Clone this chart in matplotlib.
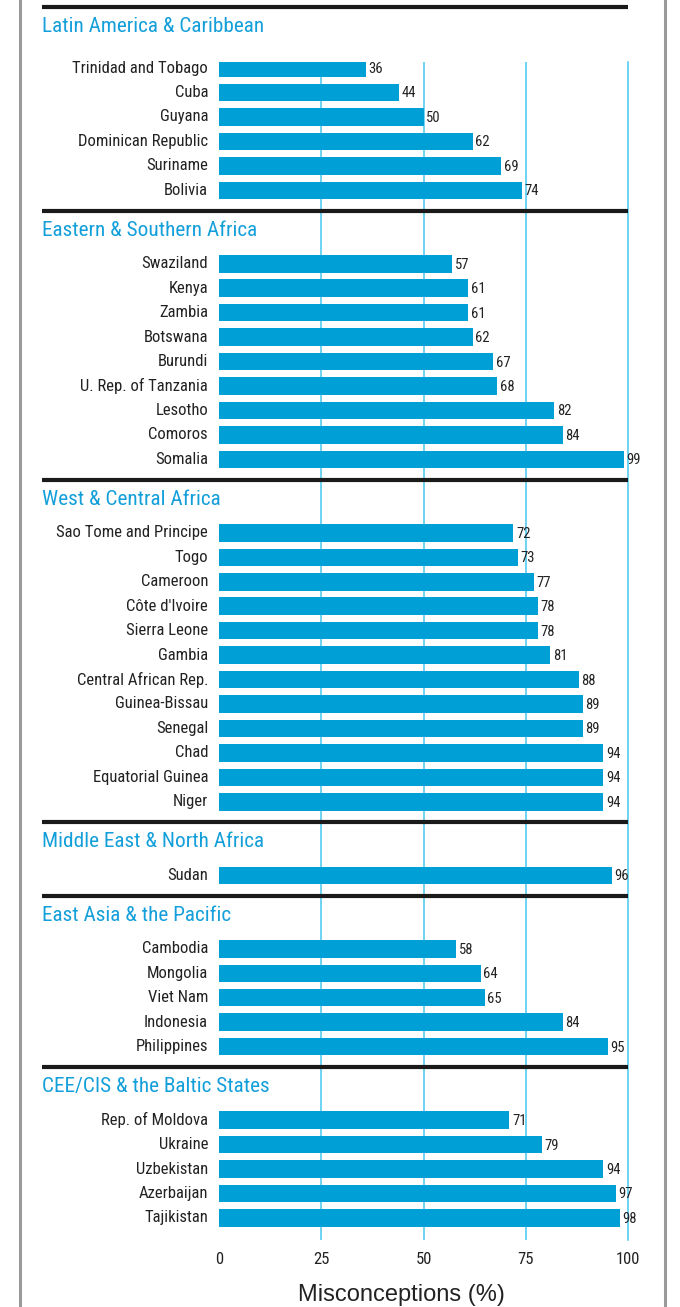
import matplotlib
matplotlib.use("Agg")
import matplotlib.pyplot as plt
from matplotlib.lines import Line2D
from matplotlib import font_manager

# values (% with misconceptions)
region_names = ["Latin America & Caribbean", "Eastern & Southern Africa", "West & Central Africa",
                "Middle East & North Africa", "East Asia & the Pacific", "CEE/CIS & the Baltic States"]

latam_countries = ["Trinidad and Tobago", "Cuba", "Guyana", "Dominican Republic", "Suriname", "Bolivia"]
latam_values = [36, 44, 50, 62, 69, 74]

esa_countries = ["Swaziland", "Kenya", "Zambia", "Botswana", "Burundi", "U. Rep. of Tanzania",
                 "Lesotho", "Comoros", "Somalia"]
esa_values = [57, 61, 61, 62, 67, 68, 82, 84, 99]

wca_countries = ["Sao Tome and Principe", "Togo", "Cameroon", "Côte d'Ivoire", "Sierra Leone", "Gambia",
                 "Central African Rep.", "Guinea-Bissau", "Senegal", "Chad", "Equatorial Guinea", "Niger"]
wca_values = [72, 73, 77, 78, 78, 81, 88, 89, 89, 94, 94, 94]

mena_countries = ["Sudan"]
mena_values = [96]

eap_countries = ["Cambodia", "Mongolia", "Viet Nam", "Indonesia", "Philippines"]
eap_values = [58, 64, 65, 84, 95]

cee_countries = ["Rep. of Moldova", "Ukraine", "Uzbekistan", "Azerbaijan", "Tajikistan"]
cee_values = [71, 79, 94, 97, 98]

x_ticks = [0, 25, 50, 75, 100]

groups = [
    (region_names[0], latam_countries, latam_values),
    (region_names[1], esa_countries, esa_values),
    (region_names[2], wca_countries, wca_values),
    (region_names[3], mena_countries, mena_values),
    (region_names[4], eap_countries, eap_values),
    (region_names[5], cee_countries, cee_values),
]

BAR = "#00a0d6"
TITLE = "#139fda"
GRID = "#45c7ef"
TXT = "#222222"


def narrow_font(size):
    # pick a condensed face if one is installed
    fonts = font_manager.fontManager.ttflist
    names = set(f.name for f in fonts)
    for fam in ["Liberation Sans Narrow", "Roboto Condensed", "Open Sans Condensed", "Noto Sans Condensed"]:
        if fam in names:
            return font_manager.FontProperties(family=fam, size=size)
    for f in fonts:
        if f.name == "DejaVu Sans" and f.stretch in ("condensed", "semi-condensed") and f.weight in ("normal", 400):
            return font_manager.FontProperties(fname=f.fname, size=size)
    for f in fonts:
        if f.name in ("Roboto", "Noto Sans", "Open Sans") and f.stretch in ("condensed", "semi-condensed"):
            return font_manager.FontProperties(fname=f.fname, size=size)
    return font_manager.FontProperties(family="DejaVu Sans", size=size)


W, H = 680, 1307
fig = plt.figure(figsize=(W / 100, H / 100), dpi=100)
# axes spans x 0..100 and y in pixel rows (top = 62px, bottom = 1240px)
ax = fig.add_axes([219 / W, (H - 1240) / H, 409 / W, (1240 - 62) / H])
ax.set_xlim(0, 100)
ax.set_ylim(1240, 62)
px = 100 / 409  # data units per pixel along x

# layout in pixel rows
row_step = 24.45
sep_y = 6.5
first_y = 68

for i, (name, countries, values) in enumerate(groups):
    if i > 0:
        first_y = sep_y + 53
    ax.plot([-177 * px, 100], [sep_y, sep_y], color="#1a1a1a", lw=3.0,
            solid_capstyle="butt", clip_on=False, zorder=3)
    ax.text(-177 * px, sep_y + 19.5, name, color=TITLE, fontproperties=narrow_font(15.3),
            ha="left", va="center")
    ys = [first_y + k * row_step for k in range(len(values))]
    ax.barh(ys, values, height=17.5, color=BAR, zorder=2)
    for y, c, v in zip(ys, countries, values):
        ax.text(-11 * px, y, c, ha="right", va="center", fontproperties=narrow_font(12), color=TXT)
        ax.text(v + 2.5 * px, y + 1, str(v), ha="left", va="center", fontproperties=narrow_font(10.5), color=TXT)
    sep_y = ys[-1] + 20.5

ax.set_xticks(x_ticks)
ax.set_yticks([])
ax.grid(axis="x", color=GRID, lw=1.1)
gl = ax.xaxis.get_gridlines()
gl[0].set_visible(False)
gl[-1].set_clip_on(False)
ax.set_axisbelow(True)
ax.tick_params(axis="x", length=0, pad=9, labelcolor=TXT)
for lab in ax.get_xticklabels():
    lab.set_fontproperties(narrow_font(12))
for s in ax.spines.values():
    s.set_visible(False)
fig.text(401 / W, 1 - 1295 / H, "Misconceptions (%)", fontsize=17, family="Liberation Sans",
         color=TXT, ha="center", va="center")

for xb in (20, 665):
    fig.add_artist(Line2D([xb / W, xb / W], [0, 1], color="#9a9a9a", lw=2.2, transform=fig.transFigure))

fig.savefig("out.png", dpi=100)
